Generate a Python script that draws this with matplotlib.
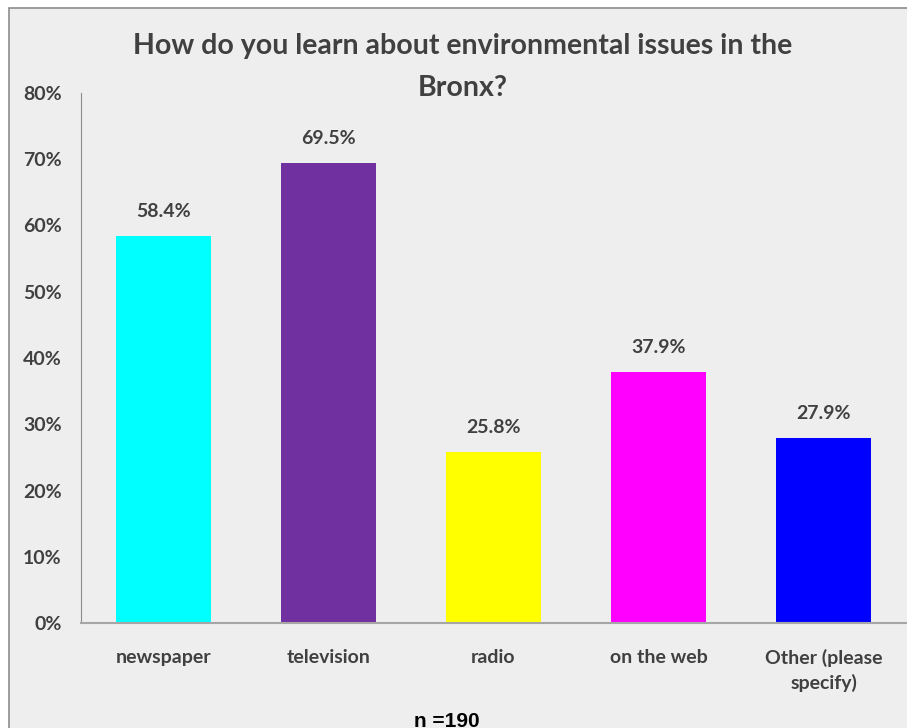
import matplotlib
matplotlib.use("Agg")
import matplotlib.pyplot as plt
from matplotlib.patches import Rectangle
from matplotlib.ticker import FuncFormatter

# survey answers, percent of respondents
sources = ["newspaper", "television", "radio", "on the web", "Other (please\nspecify)"]
shares = [58.4, 69.5, 25.8, 37.9, 27.9]
colors = ["#00FFFF", "#7030A0", "#FFFF00", "#FF00FF", "#0000FF"]
title = "How do you learn about environmental issues in the\nBronx?"
note = "n =190"

plt.rcParams["font.family"] = ["Lato", "DejaVu Sans"]
plt.rcParams["font.weight"] = "bold"
text_col = "#404040"

W, H = 907, 728
fig = plt.figure(figsize=(W / 100, H / 100), dpi=100, facecolor="white")

# chart area panel with thin border, kept behind the axes
fig.patches.append(Rectangle((9 / W, -0.01), 1.0, 1 - 8 / H + 0.01,
                             transform=fig.transFigure, facecolor="#EEEEEE",
                             edgecolor="#8C8C8C", linewidth=1.2, zorder=-5))

ax = fig.add_axes([81 / W, 1 - 623 / H, (906 - 81) / W, (623 - 93) / H])
ax.set_facecolor("none")

x = range(len(sources))
ax.bar(x, shares, width=0.576, color=colors, zorder=2)
for xi, v in zip(x, shares):
    ax.text(xi, v + 2.4, f"{v:.1f}%", ha="center", va="bottom",
            fontsize=14, fontweight="bold", color=text_col)

ax.set_xlim(-0.5, len(sources) - 0.5)
ax.set_ylim(0, 80)
ax.set_yticks(range(0, 81, 10))
ax.yaxis.set_major_formatter(FuncFormatter(lambda v, _: f"{v:.0f}%"))
ax.set_xticks(list(x))
ax.set_xticklabels(sources, fontsize=14, fontweight="bold", color=text_col,
                   linespacing=1.45, va="top")
ax.tick_params(axis="y", labelsize=14, labelcolor=text_col)
ax.tick_params(axis="both", length=0)
ax.tick_params(axis="y", pad=14)
ax.tick_params(axis="x", pad=19)

for side in ["top", "right"]:
    ax.spines[side].set_visible(False)
ax.spines["left"].set_color("#8C8C8C")
ax.spines["bottom"].set_color("#A6A6A6")
ax.spines["bottom"].set_linewidth(1.5)

fig.text(463 / W, 1 - 67 / H, title, ha="center", va="center",
         fontsize=20.5, fontweight="bold", color=text_col, linespacing=1.75)
fig.text(447 / W, 1 - 712 / H, note, ha="center", va="top",
         fontsize=15, fontweight="bold", color="black",
         family=["Liberation Sans", "DejaVu Sans"])

fig.savefig("out.png", dpi=100, facecolor="white")
